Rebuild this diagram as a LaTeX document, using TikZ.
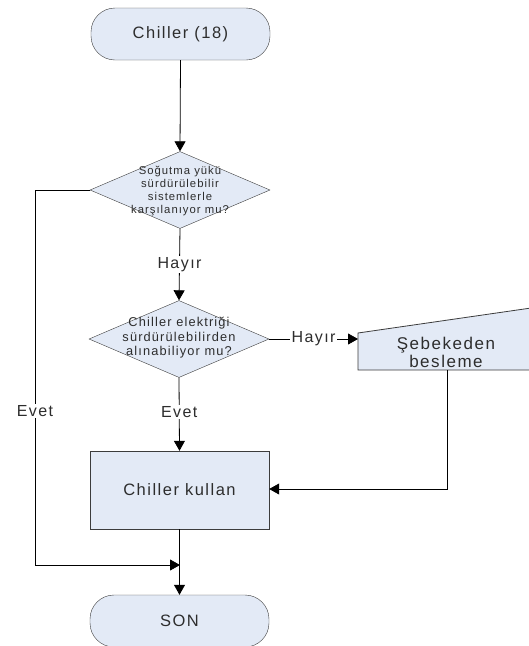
\documentclass[tikz,border=0pt]{standalone}
\usepackage{fontspec}
\setmainfont{Liberation Sans}[LetterSpace=9]
\usetikzlibrary{shapes.geometric,arrows.meta}
\definecolor{boxfill}{RGB}{227,234,246}
\definecolor{boxline}{RGB}{60,60,60}
\definecolor{txt}{RGB}{45,45,45}
\begin{document}
\begin{tikzpicture}[x=1pt,y=-1pt,
  every node/.style={text=txt},
  term/.style={draw=boxline,fill=boxfill,rounded corners=24pt,minimum width=179pt,minimum height=52pt,inner sep=0pt,font=\fontsize{16.5}{18}\selectfont},
  proc/.style={draw=boxline,fill=boxfill,minimum width=179pt,minimum height=78pt,inner sep=0pt,font=\fontsize{16.5}{18}\selectfont},
  dia/.style={draw=boxline,fill=boxfill,shape=diamond,minimum width=180pt,minimum height=77pt,inner sep=0pt},
  dtext/.style={align=center,inner sep=0pt},
  lbl/.style={fill=white,inner sep=1.5pt,font=\fontsize{16}{18}\selectfont},
  conn/.style={draw=black,line width=0.8pt,-{Triangle[length=10pt,width=11pt]}},
  plain/.style={draw=black,line width=0.8pt}]
\useasboundingbox (0,0) rectangle (529,646);

% start and end terminators
\node[term] (start) at (180.5,34) {Chiller (18)};
\node[term] (son) at (179.5,621) {SON};

% decision: cooling load covered by sustainable systems?
\node[dia] (d1) at (180,190) {};
\node[dtext,font=\fontsize{11.3}{13.3}\selectfont] (d1t) at (180,191) {Soğutma yükü\\sürdürülebilir\\sistemlerle\\karşılanıyor mu?};

% decision: chiller electricity from sustainable sources?
\node[dia] (d2) at (179,339) {};
\node[dtext,font=\fontsize{12.8}{14.5}\selectfont] (d2t) at (179,338) {Chiller elektriği\\sürdürülebilirden\\alınabiliyor mu?};

% process box
\node[proc] (use) at (179.5,490) {Chiller kullan};

% manual input: grid supply
\fill[boxfill] (358,333) -- (531,308) -- (531,370) -- (358,370) -- cycle;
\draw[boxline,line width=0.8pt] (529,308.3) -- (358,333) -- (358,370) -- (529,370);
\coordinate (feedin) at (358,339);
\coordinate (feedout) at (447,370);
\node[align=center,font=\fontsize{17}{18}\selectfont] (feed) at (446,352) {Şebekeden\\besleme};

% connectors
\draw[conn] (start.south) -- (d1.north);
\draw[conn] (d1.south) -- node[lbl] (h1) {Hayır} (d2.north);
\draw[conn] (d2.east) -- node[lbl] (h2) {Hayır} (feedin);
\draw[conn] (d2.south) -- node[lbl,pos=0.47] (e1) {Evet} (use.north);
\coordinate (feedturn) at (447,489);
\draw[conn] (feedout) -- (feedturn) -- (use.east |- feedturn);
\draw[conn] (use.south) -- (son.north);
\coordinate (lt) at (35,190);
\coordinate (lb) at (35,565);
\coordinate (join) at (180,565);
\draw[conn] (d1.west) -- (lt) -- node[lbl,pos=0.59] (e2) {Evet} (lb) -- (join);
\end{tikzpicture}
\end{document}
